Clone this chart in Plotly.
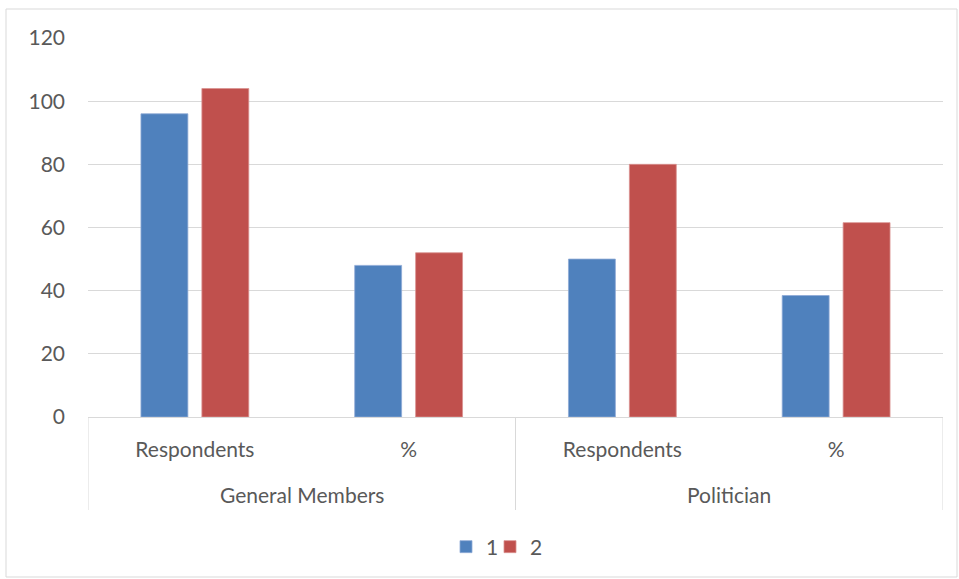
import plotly.graph_objects as go

groups = ["General Members", "General Members", "Politician", "Politician"]
subcats = ["Respondents", "%", "Respondents", "%"]
series1 = [96, 48, 50, 38.46]
series2 = [104, 52, 80, 61.54]
yticks = [0, 20, 40, 60, 80, 100, 120]

W, H = 959, 579
ml, mr, mt, mb = 88, 16, 38, 162
pw, ph = W - ml - mr, H - mt - mb

xs = list(range(len(subcats)))
font = "Lato, 'Open Sans', sans-serif"
grey = "#595959"
fs = 21

fig = go.Figure()
fig.add_bar(x=xs, y=series1, name="1", marker_color="#4F81BD",
            marker_line=dict(color="#8EAAD6", width=0.8), legend="legend")
fig.add_bar(x=xs, y=series2, name="2", marker_color="#C0504D",
            marker_line=dict(color="#D99290", width=0.8), legend="legend2")

shapes = []
# x-axis category dividers (Excel multi-level style)
for xv in [-0.5, 1.5, 3.5]:
    shapes.append(dict(type="line", xref="x", yref="paper", x0=xv, x1=xv,
                       y0=0, y1=-(510 - 417) / ph,
                       line=dict(color="#d9d9d9", width=1)))
# chart border
shapes.append(dict(type="rect", xref="paper", yref="paper",
                   x0=(6 - ml) / pw, x1=(957 - ml) / pw,
                   y0=-(577 - 417) / ph, y1=(417 - 9) / ph,
                   line=dict(color="#d9d9d9", width=1)))

annotations = []
seen = []
for g in groups:
    if g not in seen:
        seen.append(g)
for g in seen:
    idx = [i for i, gg in enumerate(groups) if gg == g]
    annotations.append(dict(x=sum(idx) / len(idx), y=-(494 - 417) / ph,
                            xref="x", yref="paper", text=g, showarrow=False,
                            font=dict(size=fs, color=grey, family=font),
                            yanchor="middle"))

legend_common = dict(orientation="h", xanchor="left",
                     y=-(547 - 417) / ph, yanchor="middle",
                     font=dict(size=fs, color=grey, family=font),
                     itemwidth=30, bgcolor="rgba(0,0,0,0)")

fig.update_layout(
    width=W, height=H,
    margin=dict(l=ml, r=mr, t=mt, b=mb),
    paper_bgcolor="white", plot_bgcolor="white",
    barmode="group", bargap=0.43, bargroupgap=0.23,
    font=dict(family=font, size=fs, color=grey),
    showlegend=True,
    legend=dict(x=(446 - ml) / pw, **legend_common),
    legend2=dict(x=(490 - ml) / pw, **legend_common),
    shapes=shapes, annotations=annotations,
)
fig.update_xaxes(tickmode="array", tickvals=xs, ticktext=subcats,
                 range=[-0.5, 3.5], showgrid=False, ticks="",
                 showline=True, linecolor="#d9d9d9", linewidth=1,
                 ticklabelstandoff=14, tickfont=dict(size=fs, color=grey))
fig.update_yaxes(range=[0, 120], tickvals=yticks, showgrid=True,
                 gridcolor="#d9d9d9", gridwidth=1, zeroline=False,
                 showline=False, ticks="", ticklabelstandoff=22,
                 tickfont=dict(size=fs, color=grey))

fig.write_html("out.html")
